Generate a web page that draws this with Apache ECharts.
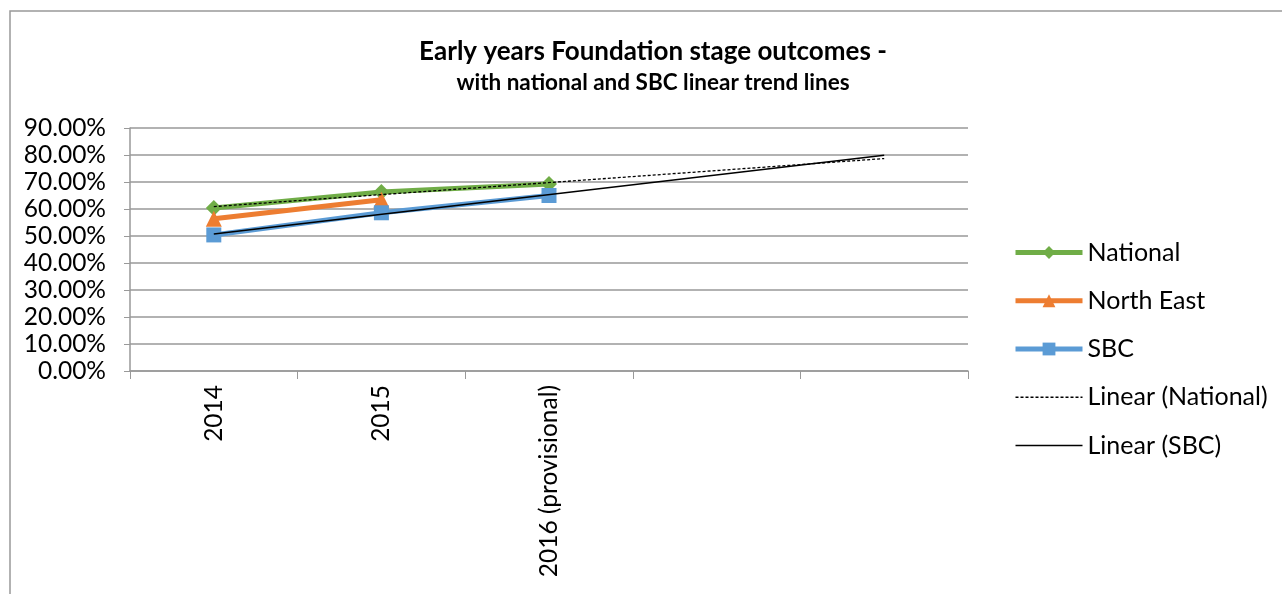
<!DOCTYPE html>
<html>
<head>
<meta charset="utf-8">
<script src="https://cdn.jsdelivr.net/npm/echarts@6/dist/echarts.min.js"></script>
<style>
html,body{margin:0;padding:0;background:#fff;}
#chart{width:1282px;height:594px;}
</style>
</head>
<body>
<div id="chart"></div>
<script>
// ---- data ----
var categories = ['2014', '2015', '2016 (provisional)', '', ''];
var national = [0.604, 0.663, 0.693];
var northEast = [0.564, 0.634];
var sbc = [0.504, 0.586, 0.650];
var yTicks = [0, 0.1, 0.2, 0.3, 0.4, 0.5, 0.6, 0.7, 0.8, 0.9];
var titleText = 'Early years Foundation stage outcomes -';
var subtitleText = 'with national and SBC linear trend lines';

// least-squares linear trend over the known points, extended to last category
function linearTrend(vals, lastIndex) {
  var n = vals.length, sx = 0, sy = 0, sxy = 0, sxx = 0;
  for (var i = 0; i < n; i++) { sx += i; sy += vals[i]; sxy += i * vals[i]; sxx += i * i; }
  var b = (n * sxy - sx * sy) / (n * sxx - sx * sx);
  var a = (sy - b * sx) / n;
  return [[0, a], [lastIndex, a + b * lastIndex]];
}

var FONT = 'Lato, "Open Sans", sans-serif';
var chart = echarts.init(document.getElementById('chart'));
chart.setOption({
  animation: false,
  backgroundColor: '#fff',
  title: {
    text: titleText,
    subtext: subtitleText,
    left: 648, top: 34, textAlign: 'center',
    itemGap: 6,
    textStyle: { fontFamily: FONT, fontSize: 26, fontWeight: 'bold', color: '#000' },
    subtextStyle: { fontFamily: FONT, fontSize: 22.5, fontWeight: 'bold', color: '#000' }
  },
  graphic: [{
    type: 'polyline',
    shape: { points: [[10, 600], [10, 11], [1290, 11]] },
    style: { stroke: '#999', lineWidth: 1.5, fill: null }
  }],
  legend: {
    orient: 'vertical', left: 1008, top: 235,
    itemWidth: 67, itemHeight: 16, itemGap: 23.25,
    lineStyle: { width: 'inherit' },
    textStyle: { fontFamily: FONT, fontSize: 25, color: '#000', lineHeight: 24 },
    data: [
      'National', 'North East', 'SBC',
      { name: 'Linear (National)', itemStyle: { opacity: 0 } },
      { name: 'Linear (SBC)', itemStyle: { opacity: 0 } }
    ]
  },
  grid: { left: 130, right: 314, top: 128, bottom: 223, containLabel: false },
  xAxis: {
    type: 'category', data: categories, boundaryGap: true,
    axisLine: { lineStyle: { color: '#999', width: 1.5 } },
    axisTick: { show: true, length: 8, lineStyle: { color: '#999' }, alignWithLabel: false },
    axisLabel: { rotate: 90, margin: 14, fontFamily: FONT, fontSize: 24.5, color: '#000', interval: 0 },
    splitLine: { show: false }
  },
  yAxis: {
    type: 'value', min: 0, max: 0.9, interval: 0.1,
    axisLine: { show: true, lineStyle: { color: '#999', width: 1.5 } },
    axisTick: { show: true, length: 6, lineStyle: { color: '#999' } },
    axisLabel: {
      margin: 24, fontFamily: FONT, fontSize: 24.5, color: '#000',
      formatter: function (v) { return (v * 100).toFixed(2) + '%'; }
    },
    splitLine: { lineStyle: { color: '#999', width: 1.5 } }
  },
  series: [
    {
      name: 'National', type: 'line', data: national,
      symbol: 'diamond', symbolSize: 16, z: 3,
      lineStyle: { color: '#70AD47', width: 5 }, itemStyle: { color: '#70AD47' }
    },
    {
      name: 'North East', type: 'line', data: northEast,
      symbol: 'triangle', symbolSize: 16, z: 3,
      lineStyle: { color: '#ED7D31', width: 5 }, itemStyle: { color: '#ED7D31' }
    },
    {
      name: 'SBC', type: 'line', data: sbc,
      symbol: 'rect', symbolSize: 15, z: 3,
      lineStyle: { color: '#5B9BD5', width: 5 }, itemStyle: { color: '#5B9BD5' }
    },
    {
      name: 'Linear (National)', type: 'line', data: linearTrend(national, 4),
      symbol: 'circle', showSymbol: false, z: 4,
      lineStyle: { color: '#000', width: 1.3, type: [3, 2] }, itemStyle: { color: '#000' }
    },
    {
      name: 'Linear (SBC)', type: 'line', data: linearTrend(sbc, 4),
      symbol: 'circle', showSymbol: false, z: 4,
      lineStyle: { color: '#000', width: 1.5 }, itemStyle: { color: '#000' }
    }
  ]
});
</script>
</body>
</html>
